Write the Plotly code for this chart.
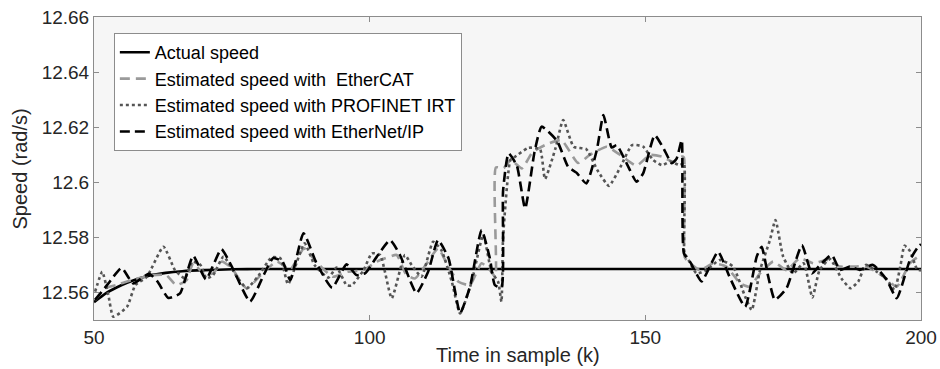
import plotly.graph_objects as go

# ---------------- data ----------------
actual_k = [50, 52, 54, 56, 58, 60, 63, 66, 70, 75, 80, 200]
actual_v = [12.5565, 12.5595, 12.5617, 12.5635, 12.5650, 12.5661, 12.5671, 12.5677,
            12.5681, 12.5684, 12.5685, 12.5685]

ecat_k = [50.2, 52.0, 54.1, 56.8, 59.3, 60.7, 63.1, 64.9, 66.8, 68.0, 69.8, 71.6, 73.2, 75.0,
          77.7, 80.8, 83.2, 85.6, 88.1, 90.4, 93.3, 96.0, 98.9, 101.3, 102.8, 104.9, 106.6,
          108.2, 110.6, 112.4, 114.3, 116.1, 118.2, 120.3, 121.8, 122.8, 122.9, 124.3, 125.6,
          127.6, 129.5, 132.1, 134.8, 137.8, 140.0, 143.0, 145.4, 148.4, 150.8, 153.0, 155.0,
          156.6, 157.0, 157.1, 157.5, 159.9, 162.3, 164.7, 167.2, 168.9, 170.8, 173.2, 175.6,
          178.0, 180.5, 182.9, 185.3, 187.7, 190.1, 193.2, 195.6, 198.0, 199.5, 200.0]
ecat_v = [12.5573, 12.5615, 12.5627, 12.5645, 12.5657, 12.5663, 12.5663, 12.5627, 12.5645,
          12.5706, 12.5669, 12.5669, 12.5712, 12.5688, 12.5615, 12.5675, 12.5712, 12.5684,
          12.5760, 12.5709, 12.5657, 12.5675, 12.5681, 12.5712, 12.5724, 12.5736, 12.5666,
          12.5651, 12.5712, 12.5760, 12.5693, 12.5639, 12.5627, 12.5706, 12.5681, 12.5657,
          12.6054, 12.6051, 12.6081, 12.6050, 12.6108, 12.6138, 12.6153, 12.6070, 12.6100,
          12.6129, 12.6100, 12.6060, 12.6099, 12.6093, 12.6075, 12.6093, 12.6090, 12.5730,
          12.5718, 12.5681, 12.5706, 12.5694, 12.5633, 12.5621, 12.5669, 12.5712, 12.5681,
          12.5724, 12.5706, 12.5718, 12.5694, 12.5694, 12.5694, 12.5657, 12.5621, 12.5706,
          12.5730, 12.5732]

pnet_k = [50.2, 51.5, 52.6, 53.5, 56.0, 57.5, 59.6, 62.6, 64.7, 66.5, 67.8, 69.3, 70.4, 71.6,
          73.5, 75.9, 77.7, 79.8, 82.2, 83.8, 85.2, 88.2, 90.0, 92.5, 94.0, 95.8, 96.7, 98.9,
          100.4, 101.9, 104.0, 106.4, 107.6, 109.4, 111.5, 113.0, 114.9, 116.4, 118.5, 120.6,
          122.1, 123.3, 123.9, 124.2, 125.5, 126.0, 128.8, 130.9, 131.8, 133.7, 135.1, 137.0,
          139.3, 141.3, 143.4, 145.5, 147.6, 149.6, 151.4, 153.0, 154.5, 156.3, 157.0, 157.1,
          157.5, 159.3, 161.1, 163.5, 165.9, 168.1, 169.3, 170.8, 172.6, 173.6, 175.0, 176.8,
          178.7, 180.3, 181.6, 183.5, 185.6, 187.2, 188.6, 190.0, 192.0, 193.6, 195.2, 196.3,
          197.0, 198.0, 199.3, 200.0]
pnet_v = [12.5603, 12.5675, 12.5591, 12.5512, 12.5548, 12.5627, 12.5657, 12.5766, 12.5681,
          12.5651, 12.5712, 12.5700, 12.5651, 12.5663, 12.5730, 12.5657, 12.5615, 12.5660,
          12.5727, 12.5724, 12.5630, 12.5778, 12.5700, 12.5654, 12.5690, 12.5627, 12.5625,
          12.5681, 12.5742, 12.5736, 12.5579, 12.5736, 12.5700, 12.5657, 12.5784, 12.5754,
          12.5639, 12.5524, 12.5639, 12.5808, 12.5675, 12.5639, 12.5566, 12.5800, 12.6080,
          12.6087, 12.6125, 12.6120, 12.6012, 12.6123, 12.6226, 12.6129, 12.6120, 12.6044,
          12.5987, 12.6056, 12.6135, 12.6129, 12.6081, 12.6062, 12.6075, 12.6062, 12.6070,
          12.5740, 12.5730, 12.5669, 12.5681, 12.5718, 12.5694, 12.5585, 12.5536, 12.5681,
          12.5790, 12.5863, 12.5730, 12.5669, 12.5706, 12.5582, 12.5681, 12.5721, 12.5650,
          12.5615, 12.5639, 12.5700, 12.5675, 12.5653, 12.5610, 12.5700, 12.5770, 12.5750,
          12.5684, 12.5680]

enip_k = [50.2, 52.5, 55.0, 57.1, 60.0, 61.5, 63.5, 65.6, 68.0, 70.3, 73.1, 75.0, 78.3, 80.7,
          82.5, 84.2, 85.6, 88.0, 90.4, 93.2, 95.8, 97.6, 99.2, 101.3, 103.7, 105.5, 107.3,
          108.5, 110.6, 112.4, 114.3, 115.5, 116.4, 118.2, 120.3, 121.8, 122.7, 123.9, 124.2,
          125.2, 126.7, 128.2, 129.9, 131.2, 134.0, 136.0, 137.5, 139.3, 141.2, 142.4, 143.9,
          144.8, 146.6, 148.4, 149.6, 151.7, 153.3, 154.8, 155.7, 156.6, 157.0, 158.1, 160.2,
          161.7, 163.2, 165.4, 168.1, 170.2, 171.1, 172.3, 173.5, 175.6, 178.4, 180.2, 181.7,
          183.8, 185.3, 187.1, 188.9, 191.3, 193.8, 195.6, 198.0, 199.5, 200.0]
enip_v = [12.5573, 12.5630, 12.5689, 12.5633, 12.5668, 12.5640, 12.5580, 12.5597, 12.5733,
          12.5648, 12.5757, 12.5694, 12.5567, 12.5660, 12.5725, 12.5712, 12.5645, 12.5815,
          12.5704, 12.5617, 12.5702, 12.5663, 12.5670, 12.5730, 12.5790, 12.5736, 12.5645,
          12.5597, 12.5675, 12.5790, 12.5724, 12.5603, 12.5524, 12.5621, 12.5827, 12.5724,
          12.5627, 12.5618, 12.5970, 12.6105, 12.6060, 12.5905, 12.6110, 12.6202, 12.6150,
          12.6056, 12.6035, 12.5996, 12.6117, 12.6244, 12.6126, 12.6135, 12.6069, 12.6002,
          12.6032, 12.6171, 12.6123, 12.6069, 12.6087, 12.6153, 12.5742, 12.5712, 12.5640,
          12.5694, 12.5748, 12.5651, 12.5548, 12.5730, 12.5766, 12.5657, 12.5573, 12.5615,
          12.5772, 12.5669, 12.5700, 12.5736, 12.5682, 12.5694, 12.5682, 12.5700, 12.5645,
          12.5579, 12.5718, 12.5766, 12.5775]

x_ticks = [50, 100, 150, 200]
y_ticks = [12.56, 12.58, 12.60, 12.62, 12.64, 12.66]
y_tick_text = ["12.56", "12.58", "12.6", "12.62", "12.64", "12.66"]

names = ["Actual speed", "Estimated speed with  EtherCAT",
         "Estimated speed with PROFINET IRT", "Estimated speed with EtherNet/IP"]

# ---------------- figure ----------------
FONT = "Liberation Sans, Arial, sans-serif"
SMOOTH = 0.5
fig = go.Figure()
fig.add_trace(go.Scatter(x=actual_k, y=actual_v, mode="lines", name=names[0],
                         line=dict(color="#000000", width=2.6, shape="spline",
                                   smoothing=SMOOTH)))
fig.add_trace(go.Scatter(x=ecat_k, y=ecat_v, mode="lines", name=names[1],
                         line=dict(color="#9a9a9a", width=2.6, dash="10px,6px",
                                   shape="spline", smoothing=SMOOTH)))
fig.add_trace(go.Scatter(x=pnet_k, y=pnet_v, mode="lines", name=names[2],
                         line=dict(color="#555555", width=2.6, dash="3px,3px",
                                   shape="spline", smoothing=SMOOTH)))
fig.add_trace(go.Scatter(x=enip_k, y=enip_v, mode="lines", name=names[3],
                         line=dict(color="#000000", width=2.6, dash="10px,5px",
                                   shape="spline", smoothing=SMOOTH)))

axis_common = dict(showline=True, linecolor="#8c8c8c", linewidth=1, mirror="ticks",
                   ticks="inside", ticklen=5, tickcolor="#8c8c8c", showgrid=False,
                   zeroline=False, automargin=False,
                   tickfont=dict(family=FONT, size=19, color="#262626"))

fig.update_xaxes(range=[50, 200], tickvals=x_ticks, **axis_common)
fig.update_yaxes(range=[12.55, 12.66], tickvals=y_ticks, ticktext=y_tick_text,
                 **axis_common)

fig.add_annotation(text="Time in sample (k)", xref="paper", yref="paper",
                   x=0.513, y=-0.115, xanchor="center", yanchor="middle",
                   showarrow=False, font=dict(family=FONT, size=20, color="#262626"))
fig.add_annotation(text="Speed (rad/s)", xref="paper", yref="paper", textangle=-90,
                   x=-0.0895, y=0.5, xanchor="center", yanchor="middle",
                   showarrow=False, font=dict(family=FONT, size=20, color="#262626"))

fig.update_layout(
    width=940, height=369,
    margin=dict(l=94, r=19, t=17, b=49, autoexpand=False),
    paper_bgcolor="white", plot_bgcolor="#f6f6f6",
    showlegend=True,
    legend=dict(x=0.024, y=0.947, xanchor="left", yanchor="top",
                bgcolor="white", bordercolor="#8c8c8c", borderwidth=1,
                itemwidth=30, tracegroupgap=0,
                font=dict(family=FONT, size=18, color="#000000")),
)

fig.write_html("out.html")
